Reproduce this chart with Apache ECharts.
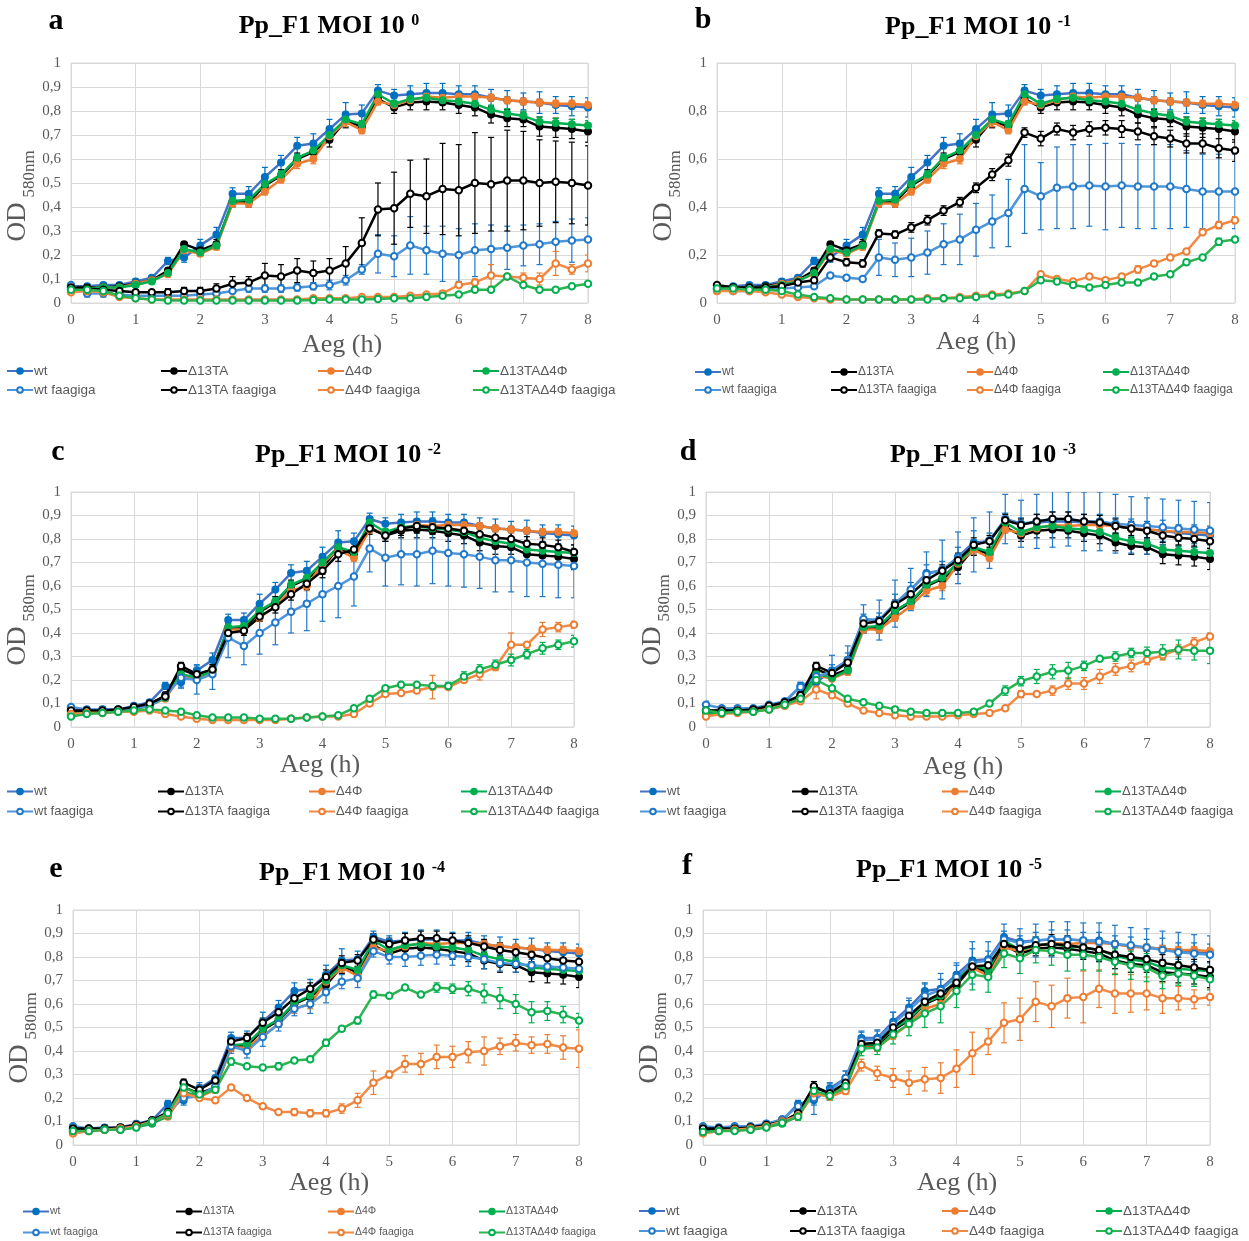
<!DOCTYPE html>
<html>
<head>
<meta charset="utf-8">
<script src="https://cdn.jsdelivr.net/npm/echarts@6/dist/echarts.min.js"></script>
<style>html,body{margin:0;padding:0;background:#fff}#c{width:1249px;height:1241px}</style>
</head>
<body>
<div id="c"></div>
<script>
// ---------------- DATA ----------------
const times = [0,0.25,0.5,0.75,1,1.25,1.5,1.75,2,2.25,2.5,2.75,3,3.25,3.5,3.75,4,4.25,4.5,4.75,5,5.25,5.5,5.75,6,6.25,6.5,6.75,7,7.25,7.5,7.75,8];
const seriesNames = ['wt','Δ13TA','Δ4Φ','Δ13TAΔ4Φ','wt faagiga','Δ13TA faagiga','Δ4Φ faagiga','Δ13TAΔ4Φ faagiga'];
const panelTitles = ['Pp_F1 MOI 10 ','Pp_F1 MOI 10 ','Pp_F1 MOI 10 ','Pp_F1 MOI 10 ','Pp_F1 MOI 10 ','Pp_F1 MOI 10 '];
const panelExponents = ['0','-1','-2','-3','-4','-5'];
const panelLetters = ['a','b','c','d','e','f'];
const xAxisTitle = 'Aeg (h)';
const yAxisTitleMain = 'OD';
const yAxisTitleSub = '580nm';

// uninfected controls (same in every panel)
const wt       = [0.07,0.07,0.075,0.075,0.09,0.105,0.175,0.19,0.24,0.285,0.455,0.455,0.525,0.585,0.655,0.665,0.725,0.785,0.79,0.885,0.865,0.87,0.875,0.875,0.87,0.87,0.855,0.845,0.84,0.835,0.825,0.82,0.815];
const d13TA    = [0.065,0.065,0.065,0.07,0.08,0.095,0.135,0.245,0.22,0.245,0.42,0.42,0.49,0.53,0.6,0.63,0.68,0.76,0.735,0.85,0.815,0.835,0.84,0.835,0.825,0.815,0.785,0.77,0.765,0.735,0.73,0.725,0.715];
const d4F      = [0.05,0.06,0.065,0.065,0.08,0.095,0.12,0.22,0.205,0.235,0.415,0.415,0.465,0.515,0.58,0.6,0.695,0.755,0.72,0.84,0.825,0.845,0.86,0.855,0.86,0.86,0.855,0.845,0.84,0.835,0.83,0.83,0.825];
const d13d4F   = [0.055,0.06,0.065,0.065,0.075,0.09,0.125,0.225,0.21,0.24,0.425,0.43,0.495,0.535,0.605,0.635,0.7,0.765,0.745,0.87,0.83,0.85,0.855,0.845,0.84,0.83,0.805,0.79,0.78,0.755,0.75,0.745,0.74];
const wtErr    = [0.01,0.01,0.01,0.01,0.01,0.01,0.015,0.02,0.025,0.03,0.025,0.03,0.04,0.03,0.035,0.04,0.04,0.05,0.035,0.025,0.025,0.035,0.04,0.04,0.035,0.035,0.035,0.04,0.035,0.045,0.035,0.04,0.04];
const d13TAErr = [0.01,0.01,0.01,0.01,0.01,0.01,0.01,0.01,0.015,0.02,0.02,0.02,0.02,0.025,0.025,0.025,0.03,0.03,0.02,0.02,0.025,0.03,0.035,0.03,0.035,0.035,0.035,0.035,0.03,0.04,0.04,0.04,0.045];
const d4FErr   = [0.01,0.01,0.01,0.01,0.01,0.01,0.01,0.01,0.01,0.015,0.015,0.015,0.015,0.015,0.02,0.02,0.02,0.02,0.015,0.015,0.015,0.015,0.015,0.015,0.015,0.015,0.015,0.015,0.015,0.015,0.015,0.015,0.015];
const d13d4FErr= [0.01,0.01,0.01,0.01,0.01,0.01,0.01,0.01,0.01,0.015,0.015,0.015,0.015,0.015,0.015,0.02,0.02,0.02,0.015,0.015,0.015,0.015,0.02,0.02,0.02,0.02,0.02,0.02,0.02,0.02,0.02,0.02,0.02];

// panel a, MOI 10^0
const aWtF      = [0.075,0.04,0.04,0.035,0.03,0.03,0.03,0.03,0.035,0.04,0.05,0.06,0.06,0.06,0.065,0.07,0.075,0.095,0.14,0.205,0.195,0.24,0.22,0.205,0.2,0.22,0.225,0.23,0.24,0.245,0.255,0.26,0.265];
const aWtFErr   = [0.01,0.015,0.015,0.01,0.01,0.01,0.01,0.01,0.01,0.01,0.01,0.015,0.015,0.015,0.015,0.015,0.02,0.02,0.02,0.08,0.085,0.12,0.1,0.115,0.11,0.11,0.1,0.09,0.085,0.085,0.085,0.09,0.09];
const aD13F     = [0.065,0.06,0.055,0.05,0.045,0.045,0.045,0.05,0.05,0.06,0.08,0.085,0.115,0.11,0.135,0.125,0.135,0.165,0.25,0.39,0.395,0.455,0.445,0.475,0.47,0.5,0.495,0.51,0.51,0.5,0.505,0.5,0.49];
const aD13FErr  = [0.01,0.01,0.01,0.01,0.01,0.01,0.015,0.015,0.015,0.02,0.03,0.025,0.05,0.05,0.05,0.05,0.05,0.07,0.105,0.11,0.15,0.14,0.155,0.19,0.19,0.21,0.195,0.21,0.205,0.18,0.17,0.17,0.165];
const aD4FF     = [0.045,0.05,0.045,0.025,0.02,0.015,0.015,0.015,0.015,0.015,0.015,0.015,0.015,0.015,0.015,0.02,0.02,0.02,0.025,0.025,0.025,0.03,0.035,0.04,0.075,0.085,0.115,0.11,0.105,0.1,0.165,0.14,0.165];
const aD4FFErr  = [0.005,0.005,0.005,0.005,0.005,0.005,0.005,0.005,0.005,0.005,0.005,0.005,0.005,0.005,0.005,0.005,0.005,0.005,0.005,0.005,0.005,0.005,0.005,0.01,0.01,0.015,0.045,0.01,0.02,0.025,0.05,0.02,0.035];
const aD13d4FF  = [0.055,0.055,0.05,0.03,0.02,0.015,0.01,0.01,0.01,0.01,0.01,0.01,0.01,0.01,0.01,0.012,0.015,0.015,0.015,0.017,0.02,0.02,0.025,0.03,0.035,0.055,0.055,0.11,0.075,0.055,0.055,0.07,0.08];
const aD13d4FFErr=[0.005,0.005,0.005,0.005,0.005,0.005,0.005,0.005,0.005,0.005,0.005,0.005,0.005,0.005,0.005,0.005,0.005,0.005,0.005,0.005,0.005,0.005,0.005,0.005,0.005,0.005,0.005,0.01,0.005,0.005,0.005,0.005,0.005];

// panel b, MOI 10^-1
const bWtF      = [0.06,0.05,0.05,0.055,0.06,0.065,0.07,0.115,0.105,0.1,0.19,0.18,0.19,0.21,0.245,0.265,0.305,0.34,0.375,0.475,0.445,0.48,0.485,0.49,0.485,0.49,0.485,0.485,0.485,0.475,0.465,0.465,0.465];
const bWtFErr   = [0.005,0.005,0.005,0.005,0.005,0.005,0.01,0.01,0.01,0.01,0.075,0.07,0.08,0.09,0.085,0.105,0.11,0.11,0.14,0.185,0.14,0.17,0.175,0.17,0.18,0.175,0.175,0.175,0.175,0.16,0.155,0.155,0.155];
const bD13F     = [0.075,0.065,0.065,0.065,0.07,0.085,0.095,0.19,0.17,0.165,0.29,0.285,0.315,0.345,0.385,0.42,0.48,0.535,0.595,0.71,0.685,0.725,0.71,0.725,0.73,0.725,0.715,0.695,0.685,0.665,0.665,0.645,0.635];
const bD13FErr  = [0.01,0.01,0.01,0.01,0.01,0.01,0.01,0.015,0.015,0.015,0.015,0.015,0.02,0.02,0.02,0.02,0.02,0.025,0.025,0.02,0.03,0.025,0.03,0.03,0.03,0.035,0.035,0.035,0.035,0.04,0.04,0.04,0.045];
const bD4FF     = [0.05,0.05,0.05,0.045,0.035,0.025,0.02,0.015,0.015,0.015,0.015,0.015,0.015,0.02,0.02,0.025,0.03,0.035,0.04,0.05,0.12,0.1,0.09,0.11,0.095,0.11,0.14,0.165,0.19,0.215,0.295,0.325,0.345];
const bD4FFErr  = [0.005,0.005,0.005,0.005,0.005,0.005,0.005,0.005,0.005,0.005,0.005,0.005,0.005,0.005,0.005,0.005,0.005,0.005,0.005,0.005,0.01,0.01,0.01,0.01,0.01,0.01,0.015,0.01,0.01,0.01,0.01,0.015,0.015];
const bD13d4FF  = [0.06,0.06,0.055,0.055,0.05,0.035,0.025,0.02,0.015,0.015,0.015,0.015,0.015,0.015,0.02,0.02,0.025,0.03,0.035,0.05,0.095,0.09,0.075,0.065,0.075,0.085,0.085,0.11,0.12,0.17,0.19,0.255,0.265];
const bD13d4FFErr=[0.005,0.005,0.005,0.005,0.005,0.005,0.005,0.005,0.005,0.005,0.005,0.005,0.005,0.005,0.005,0.005,0.005,0.005,0.005,0.005,0.01,0.01,0.01,0.01,0.01,0.01,0.01,0.01,0.01,0.01,0.01,0.015,0.01];

// panel c, MOI 10^-2
const cWtF      = [0.085,0.075,0.075,0.075,0.08,0.09,0.13,0.21,0.2,0.225,0.38,0.345,0.4,0.445,0.49,0.525,0.565,0.6,0.64,0.76,0.72,0.735,0.735,0.75,0.74,0.735,0.725,0.71,0.71,0.7,0.695,0.69,0.685];
const cWtFErr   = [0.01,0.01,0.01,0.01,0.01,0.01,0.02,0.045,0.06,0.065,0.085,0.08,0.09,0.095,0.09,0.115,0.115,0.135,0.125,0.1,0.12,0.13,0.135,0.14,0.14,0.14,0.135,0.135,0.135,0.145,0.14,0.14,0.135];
const cD13F     = [0.07,0.07,0.07,0.075,0.085,0.1,0.13,0.26,0.225,0.245,0.4,0.41,0.47,0.51,0.565,0.61,0.665,0.735,0.755,0.845,0.815,0.845,0.855,0.85,0.845,0.835,0.82,0.805,0.8,0.78,0.775,0.765,0.745];
const cD13FErr  = [0.01,0.01,0.01,0.01,0.01,0.01,0.015,0.015,0.02,0.02,0.02,0.02,0.02,0.025,0.025,0.025,0.03,0.03,0.025,0.025,0.025,0.03,0.03,0.03,0.03,0.03,0.03,0.03,0.03,0.03,0.03,0.03,0.03];
const cD4FF     = [0.055,0.06,0.06,0.065,0.065,0.07,0.055,0.045,0.035,0.03,0.03,0.03,0.03,0.03,0.035,0.04,0.045,0.045,0.055,0.1,0.14,0.145,0.155,0.17,0.17,0.2,0.225,0.255,0.35,0.35,0.415,0.425,0.435];
const cD4FFErr  = [0.005,0.005,0.005,0.005,0.005,0.005,0.005,0.005,0.005,0.005,0.005,0.005,0.005,0.005,0.005,0.005,0.005,0.005,0.005,0.005,0.01,0.01,0.01,0.05,0.01,0.01,0.025,0.015,0.05,0.01,0.03,0.02,0.015];
const cD13d4FF  = [0.045,0.055,0.06,0.065,0.07,0.075,0.07,0.065,0.05,0.04,0.04,0.04,0.035,0.035,0.035,0.04,0.045,0.05,0.08,0.12,0.165,0.18,0.18,0.175,0.175,0.215,0.245,0.265,0.285,0.31,0.335,0.35,0.365];
const cD13d4FFErr=[0.005,0.005,0.005,0.005,0.005,0.005,0.005,0.005,0.005,0.005,0.005,0.005,0.005,0.005,0.005,0.005,0.005,0.005,0.01,0.01,0.01,0.01,0.01,0.01,0.015,0.02,0.02,0.02,0.025,0.02,0.025,0.02,0.025];

// panel d, MOI 10^-3
const dWtF      = [0.095,0.08,0.08,0.08,0.095,0.11,0.17,0.215,0.235,0.285,0.46,0.455,0.525,0.585,0.65,0.67,0.72,0.775,0.795,0.885,0.865,0.875,0.885,0.885,0.875,0.875,0.865,0.86,0.855,0.85,0.845,0.84,0.835];
const dWtFErr   = [0.015,0.01,0.01,0.01,0.01,0.01,0.02,0.045,0.07,0.06,0.06,0.085,0.1,0.09,0.095,0.125,0.11,0.115,0.12,0.105,0.1,0.115,0.12,0.115,0.125,0.125,0.125,0.12,0.12,0.12,0.12,0.12,0.12];
const dD13F     = [0.07,0.07,0.07,0.075,0.09,0.105,0.135,0.26,0.23,0.275,0.44,0.45,0.52,0.565,0.625,0.665,0.71,0.775,0.79,0.88,0.86,0.875,0.885,0.885,0.875,0.87,0.855,0.845,0.835,0.815,0.805,0.8,0.79];
const dD13FErr  = [0.01,0.01,0.01,0.01,0.01,0.01,0.015,0.015,0.02,0.02,0.02,0.02,0.02,0.025,0.025,0.025,0.03,0.03,0.025,0.025,0.025,0.03,0.03,0.03,0.03,0.03,0.03,0.03,0.03,0.03,0.03,0.03,0.03];
const dD4FF     = [0.045,0.055,0.06,0.065,0.075,0.09,0.11,0.16,0.135,0.1,0.07,0.06,0.05,0.045,0.045,0.045,0.05,0.055,0.06,0.08,0.14,0.14,0.155,0.185,0.185,0.215,0.245,0.26,0.285,0.305,0.33,0.36,0.385];
const dD4FFErr  = [0.005,0.005,0.005,0.005,0.005,0.005,0.01,0.04,0.01,0.01,0.01,0.01,0.01,0.01,0.01,0.01,0.01,0.01,0.01,0.01,0.015,0.01,0.02,0.025,0.025,0.03,0.025,0.025,0.02,0.02,0.02,0.02,0.015];
const dD13d4FF  = [0.07,0.06,0.065,0.065,0.075,0.095,0.12,0.2,0.165,0.12,0.105,0.09,0.075,0.065,0.06,0.06,0.06,0.065,0.1,0.155,0.195,0.215,0.235,0.24,0.26,0.29,0.3,0.315,0.315,0.32,0.33,0.325,0.325];
const dD13d4FFErr=[0.01,0.01,0.01,0.01,0.01,0.01,0.01,0.02,0.01,0.01,0.01,0.01,0.01,0.01,0.01,0.01,0.01,0.01,0.01,0.02,0.02,0.03,0.03,0.035,0.02,0.01,0.02,0.02,0.025,0.03,0.04,0.04,0.055];

// panel e, MOI 10^-4
const eWtF      = [0.08,0.07,0.07,0.07,0.08,0.1,0.14,0.2,0.21,0.25,0.42,0.4,0.46,0.515,0.58,0.6,0.65,0.695,0.71,0.825,0.8,0.8,0.805,0.81,0.805,0.8,0.79,0.775,0.77,0.765,0.76,0.755,0.75];
const eWtFErr   = [0.01,0.01,0.01,0.01,0.01,0.01,0.015,0.02,0.02,0.02,0.03,0.03,0.04,0.03,0.03,0.04,0.045,0.03,0.04,0.025,0.03,0.04,0.04,0.04,0.04,0.04,0.04,0.035,0.035,0.035,0.035,0.035,0.035];
const eD13F     = [0.07,0.07,0.07,0.075,0.085,0.105,0.14,0.265,0.235,0.275,0.44,0.455,0.52,0.565,0.625,0.665,0.715,0.775,0.785,0.875,0.855,0.87,0.88,0.88,0.87,0.86,0.845,0.83,0.82,0.81,0.795,0.785,0.78];
const eD13FErr  = [0.01,0.01,0.01,0.01,0.01,0.01,0.015,0.015,0.02,0.02,0.02,0.02,0.02,0.025,0.025,0.025,0.03,0.03,0.025,0.025,0.025,0.03,0.03,0.03,0.03,0.03,0.03,0.03,0.03,0.03,0.03,0.03,0.03];
const eD4FF     = [0.05,0.06,0.065,0.07,0.08,0.1,0.13,0.22,0.2,0.19,0.245,0.2,0.165,0.14,0.14,0.135,0.135,0.155,0.19,0.265,0.3,0.345,0.345,0.375,0.375,0.395,0.4,0.42,0.435,0.425,0.43,0.415,0.41];
const eD4FFErr  = [0.005,0.005,0.005,0.005,0.005,0.005,0.01,0.01,0.01,0.01,0.01,0.01,0.01,0.01,0.015,0.015,0.015,0.02,0.03,0.05,0.015,0.035,0.045,0.05,0.045,0.045,0.06,0.035,0.035,0.035,0.04,0.05,0.08];
const eD13d4FF  = [0.06,0.06,0.065,0.065,0.075,0.1,0.135,0.245,0.215,0.235,0.355,0.335,0.33,0.335,0.36,0.365,0.435,0.495,0.53,0.64,0.635,0.67,0.64,0.67,0.665,0.665,0.645,0.625,0.6,0.565,0.57,0.555,0.53];
const eD13d4FFErr=[0.005,0.005,0.005,0.005,0.005,0.01,0.01,0.01,0.01,0.01,0.015,0.01,0.01,0.015,0.01,0.01,0.015,0.01,0.015,0.015,0.01,0.01,0.01,0.02,0.02,0.03,0.04,0.045,0.04,0.045,0.04,0.035,0.03];

// panel f, MOI 10^-5
const fWtF      = [0.08,0.075,0.08,0.08,0.09,0.11,0.165,0.2,0.23,0.285,0.445,0.45,0.515,0.575,0.635,0.66,0.715,0.775,0.785,0.875,0.86,0.87,0.875,0.875,0.87,0.865,0.855,0.85,0.84,0.83,0.82,0.815,0.81];
const fWtFErr   = [0.01,0.01,0.01,0.01,0.01,0.01,0.02,0.07,0.03,0.03,0.04,0.04,0.05,0.05,0.05,0.07,0.06,0.09,0.08,0.065,0.06,0.07,0.075,0.075,0.075,0.08,0.08,0.075,0.08,0.08,0.085,0.08,0.08];
const fD13F     = [0.07,0.07,0.07,0.075,0.085,0.1,0.135,0.25,0.22,0.265,0.43,0.435,0.5,0.55,0.61,0.645,0.69,0.76,0.765,0.855,0.835,0.85,0.855,0.85,0.84,0.83,0.81,0.8,0.79,0.775,0.765,0.755,0.745];
const fD13FErr  = [0.01,0.01,0.01,0.01,0.01,0.01,0.015,0.02,0.02,0.02,0.02,0.02,0.025,0.025,0.03,0.03,0.03,0.035,0.035,0.03,0.03,0.035,0.04,0.04,0.04,0.04,0.035,0.035,0.035,0.035,0.035,0.035,0.035];
const fD4FF     = [0.05,0.06,0.065,0.07,0.08,0.1,0.125,0.22,0.205,0.23,0.34,0.305,0.285,0.265,0.28,0.285,0.325,0.39,0.44,0.52,0.535,0.61,0.59,0.625,0.63,0.665,0.645,0.645,0.645,0.625,0.625,0.62,0.63];
const fD4FFErr  = [0.005,0.005,0.005,0.005,0.005,0.005,0.01,0.01,0.01,0.015,0.025,0.03,0.04,0.05,0.05,0.065,0.08,0.09,0.055,0.085,0.09,0.085,0.09,0.085,0.11,0.08,0.085,0.08,0.07,0.065,0.05,0.04,0.035];
const fD13d4FF  = [0.055,0.06,0.06,0.065,0.075,0.095,0.12,0.23,0.21,0.25,0.41,0.415,0.47,0.515,0.56,0.59,0.655,0.725,0.715,0.815,0.795,0.83,0.825,0.81,0.81,0.8,0.78,0.765,0.755,0.72,0.73,0.72,0.705];
const fD13d4FFErr=[0.01,0.01,0.01,0.01,0.01,0.01,0.015,0.02,0.02,0.02,0.03,0.03,0.04,0.05,0.06,0.07,0.07,0.065,0.065,0.06,0.065,0.055,0.06,0.07,0.065,0.06,0.055,0.06,0.06,0.055,0.05,0.045,0.045];

// ---------------- STYLE / LAYOUT ----------------
const styles = [
  {line:'#4472C4', marker:'#0070C0', err:'#0070C0', hollow:false},
  {line:'#000000', marker:'#000000', err:'#000000', hollow:false},
  {line:'#ED7D31', marker:'#ED7D31', err:'#ED7D31', hollow:false},
  {line:'#00B050', marker:'#00B050', err:'#00B050', hollow:false},
  {line:'#4E95D9', marker:'#1F78C8', err:'#1F78C8', hollow:true},
  {line:'#000000', marker:'#000000', err:'#000000', hollow:true},
  {line:'#F08A45', marker:'#ED7D31', err:'#ED7D31', hollow:true},
  {line:'#2DB34F', marker:'#00B050', err:'#00B050', hollow:true}
];
const layouts = [
  {grid:{left:71,top:63,width:517,height:240}, title:[329,28], letter:[56,21], xname:[342,345], cols:[6,160,317,472], rows:[372,391], lf:13.5, yint:0.1},
  {grid:{left:717,top:63,width:518,height:240}, title:[978,29], letter:[703,20], xname:[976,342], cols:[694,830,966,1102], rows:[373,391], lf:12, yint:0.2},
  {grid:{left:71,top:492,width:503,height:235}, title:[348,457], letter:[58,452], xname:[320,765], cols:[6,157,308,460], rows:[793,813], lf:13, yint:0.1},
  {grid:{left:706,top:492,width:504,height:235}, title:[983,457], letter:[688,452], xname:[963,767], cols:[639,791,941,1094], rows:[793,813], lf:13, yint:0.1},
  {grid:{left:73,top:910,width:506,height:235}, title:[352,875], letter:[56,869], xname:[329,1183], cols:[22,175,327,478], rows:[1212,1233], lf:10.5, yint:0.1},
  {grid:{left:703,top:910,width:507,height:235}, title:[949,872], letter:[687,866], xname:[957,1183], cols:[638,789,941,1095], rows:[1212,1232], lf:13.5, yint:0.1}
];

const controls = [wt, d13TA, d4F, d13d4F];
const controlErrs = [wtErr, d13TAErr, d4FErr, d13d4FErr];
const phage = [
  [aWtF,aD13F,aD4FF,aD13d4FF],[bWtF,bD13F,bD4FF,bD13d4FF],[cWtF,cD13F,cD4FF,cD13d4FF],
  [dWtF,dD13F,dD4FF,dD13d4FF],[eWtF,eD13F,eD4FF,eD13d4FF],[fWtF,fD13F,fD4FF,fD13d4FF]
];
const phageErrs = [
  [aWtFErr,aD13FErr,aD4FFErr,aD13d4FFErr],[bWtFErr,bD13FErr,bD4FFErr,bD13d4FFErr],[cWtFErr,cD13FErr,cD4FFErr,cD13d4FFErr],
  [dWtFErr,dD13FErr,dD4FFErr,dD13d4FFErr],[eWtFErr,eD13FErr,eD4FFErr,eD13d4FFErr],[fWtFErr,fD13FErr,fD4FFErr,fD13d4FFErr]
];

const SERIF = "'Liberation Serif','Times New Roman',serif";
const SANS = "'Liberation Sans',Arial,sans-serif";
const GRAY = '#595959';
const GRID = '#d9d9d9';

function errItem(params, api) {
  const x = api.value(0), lo = api.value(1), hi = api.value(2);
  const a = api.coord([x, hi]), b = api.coord([x, lo]);
  const c = 3;
  const st = {stroke: api.visual('color'), lineWidth: 1.2};
  return {type:'group', children:[
    {type:'line', shape:{x1:a[0],y1:a[1],x2:b[0],y2:b[1]}, style:st},
    {type:'line', shape:{x1:a[0]-c,y1:a[1],x2:a[0]+c,y2:a[1]}, style:st},
    {type:'line', shape:{x1:b[0]-c,y1:b[1],x2:b[0]+c,y2:b[1]}, style:st}
  ]};
}

const grids = [], xAxes = [], yAxes = [], series = [], legends = [], graphics = [];
layouts.forEach((L, p) => {
  grids.push(Object.assign({show:true, borderColor:GRID, borderWidth:1, backgroundColor:'#fff'}, L.grid));
  xAxes.push({gridIndex:p, type:'value', min:0, max:8, interval:1,
    axisLine:{show:false}, axisTick:{show:false},
    splitLine:{show:true, lineStyle:{color:GRID, width:1}},
    axisLabel:{color:GRAY, fontFamily:SERIF, fontSize:15, margin:10}});
  yAxes.push({gridIndex:p, type:'value', min:0, max:1, interval:L.yint,
    axisLine:{show:false}, axisTick:{show:false},
    splitLine:{show:true, lineStyle:{color:GRID, width:1}},
    axisLabel:{color:GRAY, fontFamily:SERIF, fontSize:15, margin:10,
      formatter: v => String(Math.round(v*10)/10).replace('.', ',')}});
  const vals = controls.concat(phage[p]);
  const errs = controlErrs.concat(phageErrs[p]);
  vals.forEach((arr, k) => {
    const s = styles[k];
    series.push({type:'custom', name:'err'+p+'_'+k, xAxisIndex:p, yAxisIndex:p, silent:true, clip:true,
      renderItem: errItem, itemStyle:{color:s.err}, encode:{x:0, y:[1,2]},
      data: times.map((t,i) => [t, arr[i]-errs[k][i], arr[i]+errs[k][i]]), animation:false});
    series.push({type:'line', name:seriesNames[k], xAxisIndex:p, yAxisIndex:p,
      symbol: s.hollow ? 'emptyCircle' : 'circle', symbolSize: 6.5,
      lineStyle:{color:s.line, width:2.5}, itemStyle:{color:s.marker, borderColor:s.marker, borderWidth:1.5},
      emphasis:{disabled:true}, animation:false,
      data: times.map((t,i) => [t, arr[i]])});
  });
  seriesNames.forEach((nm, k) => {
    legends.push({data:[nm], left:L.cols[k%4], top:L.rows[Math.floor(k/4)] - Math.round(L.lf*0.6),
      itemWidth:26, itemHeight:7, padding:0, itemGap:0, selectedMode:false,
      textStyle:{fontSize:L.lf, color:GRAY, fontFamily:SANS, padding:[0,0,0,-4]}});
  });
  graphics.push({type:'text', x:L.letter[0], y:L.letter[1], style:{text:panelLetters[p], fontFamily:SERIF, fontWeight:'bold', fontSize:30, fill:'#000', align:'center', verticalAlign:'middle'}});
  graphics.push({type:'text', x:L.title[0], y:L.title[1], style:{
    text:'{m|' + panelTitles[p] + '}{s|' + panelExponents[p] + '}',
    align:'center', verticalAlign:'middle',
    rich:{ m:{fontFamily:SERIF, fontWeight:'bold', fontSize:26, lineHeight:30, fill:'#000', verticalAlign:'top'},
           s:{fontFamily:SERIF, fontWeight:'bold', fontSize:16, lineHeight:18, fill:'#000', verticalAlign:'top'} }}});
  graphics.push({type:'text', x:L.xname[0], y:L.xname[1], style:{text:xAxisTitle, fontFamily:SERIF, fontSize:26, fill:GRAY, align:'center', verticalAlign:'middle'}});
  const gl = L.grid.left, gb = L.grid.top + L.grid.height;
  graphics.push({type:'text', x:gl-53, y:gb-81, rotation:Math.PI/2, style:{text:yAxisTitleMain, fontFamily:SERIF, fontSize:27, fill:GRAY, align:'center', verticalAlign:'middle'}});
  graphics.push({type:'text', x:gl-41, y:gb-129, rotation:Math.PI/2, style:{text:yAxisTitleSub, fontFamily:SERIF, fontSize:17, fill:GRAY, align:'center', verticalAlign:'middle'}});
});

const chart = echarts.init(document.getElementById('c'), null, {renderer:'canvas'});
chart.setOption({
  backgroundColor:'#fff', animation:false,
  grid:grids, xAxis:xAxes, yAxis:yAxes, series:series, legend:legends,
  graphic:{elements:graphics}
});
</script>
</body>
</html>
